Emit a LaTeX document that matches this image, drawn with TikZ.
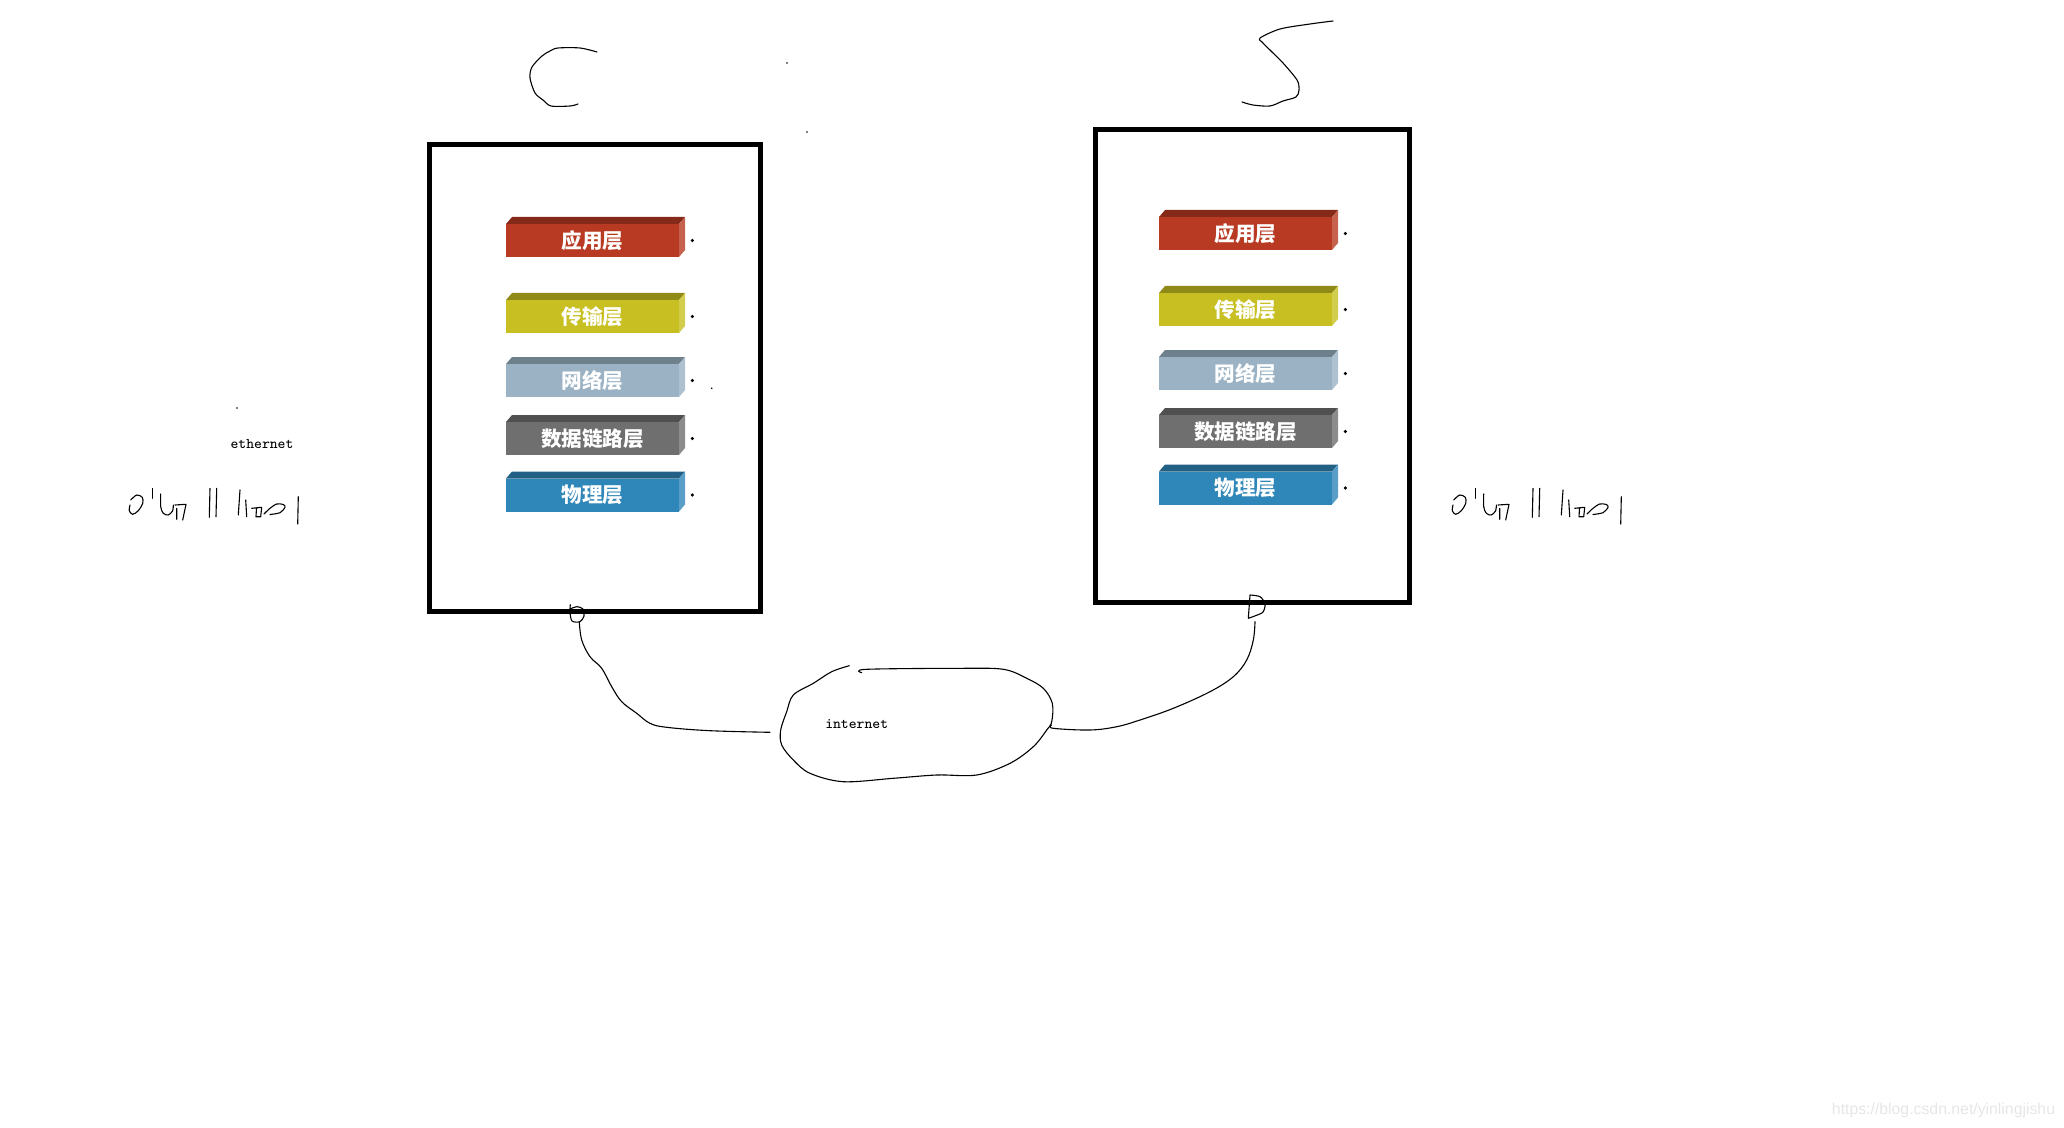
\documentclass[tikz,border=0pt]{standalone}
\usepackage{fontspec}
\newfontfamily\cjk{Noto Sans CJK SC}
\newfontfamily\wmfont{Liberation Sans}
\definecolor{appred}{RGB}{184,58,34}
\definecolor{trayellow}{RGB}{200,192,34}
\definecolor{netgray}{RGB}{154,178,196}
\definecolor{linkgray}{RGB}{111,111,111}
\definecolor{phyblue}{RGB}{47,134,184}
\definecolor{watermark}{RGB}{230,230,230}
\tikzset{
	hostbox/.style={draw,line width=2.5pt,inner sep=0pt,outer sep=0pt},
	layer/.style={minimum width=86.5pt,minimum height=16.5pt,inner sep=0pt,text=white,font=\cjk\bfseries\fontsize{10.3}{12}\selectfont},
	freehand/.style={line width=0.55pt,line join=round,line cap=round},
	smalltxt/.style={inner sep=0pt,font=\ttfamily\fontsize{7.4}{9}\selectfont},
	bits/.pic={
		\draw[freehand] plot[smooth] coordinates {(13.7,30) (19.7,25) (25.3,27.3) (25.7,33.3) (21.3,40.7) (15.7,44.3) (12.3,40.7) (13,35)};
		\draw[freehand] (35.3,18.3) -- (35.3,28.3);
		\draw[freehand] plot[smooth] coordinates {(43.7,24) (43.7,36.7) (46.3,43.3) (51.3,45) (55.7,40.7) (56.3,35)};
		\draw[freehand] (58,35) -- (69,34.3) -- (65.7,50) (59.7,38.3) -- (59.7,49.3);
		\draw[freehand] (93,18.3) -- (92.3,47.3) (99.7,18.3) -- (99,46.7);
		\draw[freehand] (123,20) -- (121.3,45) (128.7,30) -- (129.7,46.7);
		\draw[freehand] (134.7,38.3) -- (144.7,37.3) -- (143.7,46.7) -- (139,46.7) -- (139.5,38);
		\draw[freehand] plot[smooth] coordinates {(147,44) (153,38.3) (159.7,34) (166.3,34.5) (168,37.3) (163,42.7) (153,44.5)};
		\draw[freehand] (181.3,26.7) -- (180.7,54);
	}
}
\begin{document}
\begin{tikzpicture}[x=0.5pt,y=-0.5pt]
	\useasboundingbox (0,0) rectangle (2064,1128);
	% the two hosts
	\node[hostbox,minimum width=165.5pt,minimum height=233.5pt] (chost) at (595,378) {};
	\node[hostbox,minimum width=157pt,minimum height=236.5pt] (shost) at (1252.5,366) {};
	\draw[freehand] plot[smooth] coordinates {(597,52) (580,48) (558,48) (550,51) (542,56) (532,67) (530,78) (535,93) (543,100) (551,106) (570,106) (578,104)};
	\draw[freehand] plot[smooth,tension=0.5] coordinates {(1333,21) (1310,24) (1280,29) (1260,38) (1262,42) (1273,53) (1283,63) (1297,80) (1299,90) (1296,97) (1283,101) (1270,106) (1253,105) (1242,102)};
	% layer stacks
	\foreach \h/\dx/\dy in {c/0/0,s/653/-7}{
		\foreach \y/\c/\t [count=\i] in {240.5/appred/应用层,316.5/trayellow/传输层,380.5/netgray/网络层,438.5/linkgray/数据链路层,495/phyblue/物理层}{
			\fill[\c!72!black] (592.5+\dx-86.5,\y+\dy-16.5) -- ++(6,-7) -- ++(173,0) -- ++(-6,7) -- cycle;
			\fill[\c!80!white] (592.5+\dx+86.5,\y+\dy-16.5) -- ++(6,-7) -- ++(0,33) -- ++(-6,7) -- cycle;
			\node[layer,fill=\c] (\h\i) at (592.5+\dx,\y+\dy) {\t};
			\fill ([xshift=6.5pt]\h\i.east) circle (0.9pt);
		}
	}
	% ports and wires
	\coordinate (cport) at (579.3,621.7);
	\coordinate (sport) at (1255,621.7);
	\coordinate (cin) at (770,732.3);
	\coordinate (sin) at (1051.5,725);
	\draw[freehand] plot[smooth] coordinates {(570.3,604.7) (570,612) (572,621) (580,621.7) (584,616) (583,609) (577,606.7) (570,609)};
	\draw[freehand] (1250,595) -- (1248.3,618.3) plot[smooth] coordinates {(1248.3,618.3) (1256,615.5) (1263,612) (1265,604) (1260,596.7) (1250,595)};
	\draw[freehand] plot[smooth,tension=0.6] coordinates {(cport) (581.7,640) (590,656.7) (601.7,668.3) (611.7,686.7) (621.7,701.7) (636.7,713.3) (650,723.3) (666.7,727.3) (710,730.7) (cin)};
	\draw[freehand] plot[smooth,tension=0.6] coordinates {(sport) (1253.3,640) (1246.7,660) (1233.3,676.7) (1210,691.7) (1173.3,708.3) (1140,720) (1116.7,726.7) (1090,730) (1053.3,728.3) (sin)};
	% cloud
	\draw[freehand] plot[smooth,tension=0.55] coordinates {(849.3,665.7) (831.7,671.7) (813.3,683.3) (793.3,695) (786.7,711.7) (780.7,730) (781.7,745) (793.3,760) (810,773.3) (843.3,781.7) (893.3,778.3) (936.7,775) (976.7,775) (1010,763.3) (1033.3,746.7) (1046.7,730) (1051.7,721.7) (1052.3,703.3) (1043.3,688.3) (1026.7,678.3) (1003.3,669.3) (960,668.3) (866.7,669.3) (861.7,672.7)};
	\node[smalltxt] (net) at (856.7,724) {internet};
	\node[smalltxt] (eth) at (262,444) {ethernet};
	% bit strings
	\pic at (117,470) {bits};
	\pic at (1440,470) {bits};
	% stray dots
	\foreach \p in {(787,63),(807,132),(237,408),(711.7,388.3)}
		\fill \p circle (0.45pt);
	\node[font=\wmfont\fontsize{7.9}{9}\selectfont,text=watermark,inner sep=0pt] (wm) at (1943.5,1110.7) {https://blog.csdn.net/yinlingjishu};
\end{tikzpicture}
\end{document}
